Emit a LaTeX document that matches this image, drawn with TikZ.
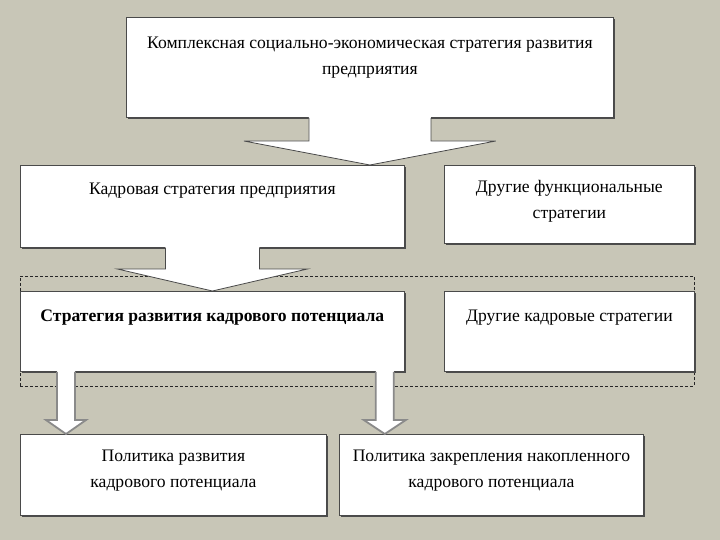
\documentclass[tikz,border=0pt]{standalone}
\usepackage{fontspec}
\setmainfont{Liberation Serif}
\usetikzlibrary{shadows,fit,calc}
\definecolor{fond_gris}{HTML}{C8C6B7}
\definecolor{bord_sombre}{HTML}{4A4A4A}
\definecolor{bord_clair}{HTML}{8A8A8A}

\tikzset{
  boite/.style={draw=bord_sombre, line width=0.8pt, fill=white, inner sep=0pt, anchor=north west,
    drop shadow={shadow xshift=1.6pt, shadow yshift=-1.6pt, fill=black!70, opacity=1}},
  cadre/.style={draw=black!85, dash pattern=on 3pt off 2pt, line width=0.7pt, inner xsep=0pt, inner ysep=15pt},
  fleche/.style={draw=bord_sombre, line width=0.8pt, line join=miter},
  petitefleche/.style={draw=bord_clair, line width=1.8pt, line join=miter}
}
% texte en haut de la boite : [decalage], largeur, hauteur, texte
\newcommand{\txtboite}[4][9]{\parbox[t][#3pt][t]{#2pt}{\centering\fontsize{17.6}{26}\selectfont\vspace*{#1pt}\strut#4}}
% fleche pleine : style, depart, arrivee, demi-largeur du corps, demi-largeur de la tete, longueur de la tete
\newcommand{\flechebloc}[6]{%
  \fill[white] let \p1=(#2), \p2=(#3) in
    (\x1-#4pt,\y1+1pt) -- (\x1-#4pt,\y2+#6pt) -- (\x1-#5pt,\y2+#6pt) -- (\x1,\y2)
    -- (\x1+#5pt,\y2+#6pt) -- (\x1+#4pt,\y2+#6pt) -- (\x1+#4pt,\y1+1pt) -- cycle;
  \draw[#1] let \p1=(#2), \p2=(#3) in
    (\x1-#4pt,\y1) -- (\x1-#4pt,\y2+#6pt) -- (\x1-#5pt,\y2+#6pt) -- (\x1,\y2)
    -- (\x1+#5pt,\y2+#6pt) -- (\x1+#4pt,\y2+#6pt) -- (\x1+#4pt,\y1);
}

\begin{document}
\begin{tikzpicture}[x=1pt,y=-1pt]
    \useasboundingbox (0,0) rectangle (720,540);
    \fill[fond_gris] (0,0) rectangle (720,540);

    \node[boite] (complexe) at (126,17) {\txtboite[13]{487}{100}{Комплексная социально-экономическая стратегия развития\\ предприятия}};
    \node[boite] (kadr) at (20,165) {\txtboite[11]{384}{82}{Кадровая стратегия предприятия}};
    \node[boite] (fonct) at (444,165) {\txtboite{250}{78}{Другие функциональные\\ стратегии}};

    \node[cadre, fit={(20,291) (694,371)}] (cadre) {};

    \node[boite] (potentiel) at (20,291) {\txtboite[12]{384}{80}{\bfseries Стратегия развития кадрового потенциала}};
    \node[boite] (autres) at (444,291) {\txtboite[12]{250}{80}{Другие кадровые стратегии}};

    \node[boite] (dev) at (20,434) {\txtboite{306}{81}{Политика развития\\ кадрового потенциала}};
    \node[boite] (fix) at (339,434) {\txtboite{304}{81}{Политика закрепления накопленного\\ кадрового потенциала}};

    % grandes fleches
    \flechebloc{fleche}{complexe.south}{kadr.north -| complexe.south}{61}{126}{24}
    \flechebloc{fleche}{kadr.south}{potentiel.north}{47}{95}{22}

    % petites fleches
    \coordinate (d1) at ($(potentiel.south west)+(46,0)$);
    \coordinate (d2) at ($(potentiel.south east)+(-20,0)$);
    \flechebloc{petitefleche}{d1}{dev.north -| d1}{9}{20}{14}
    \flechebloc{petitefleche}{d2}{fix.north -| d2}{9}{21}{14}

\end{tikzpicture}
\end{document}
